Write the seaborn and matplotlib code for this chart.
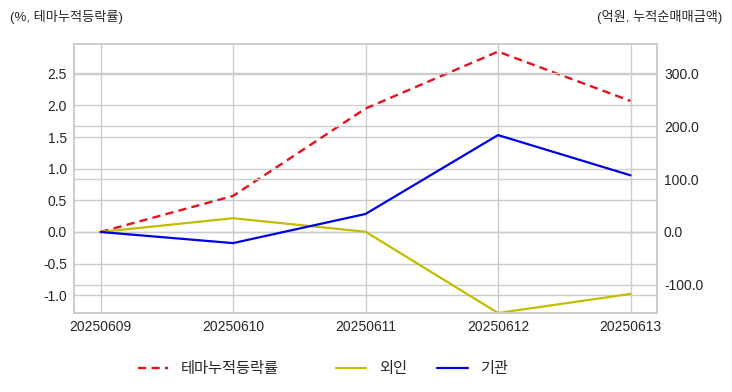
import matplotlib
matplotlib.use("Agg")
import matplotlib.pyplot as plt
import seaborn as sns
import pandas as pd
from matplotlib.ticker import FormatStrFormatter

dates = ["20250609", "20250610", "20250611", "20250612", "20250613"]
theme_rate = [0.0, 0.57, 1.95, 2.85, 2.07]      # %, 테마누적등락률
foreign = [0.0, 26.0, 0.5, -153.0, -117.0]      # 억원, 외인
institution = [0.0, -21.0, 34.0, 183.0, 107.0]  # 억원, 기관

left_ticks = [-1.0, -0.5, 0.0, 0.5, 1.0, 1.5, 2.0, 2.5]
right_ticks = [-100.0, 0.0, 100.0, 200.0, 300.0]

sns.set_theme(style="whitegrid")
plt.rcParams["font.family"] = ["Liberation Sans", "Noto Sans CJK KR", "DejaVu Sans"]
plt.rcParams["axes.unicode_minus"] = False

df = pd.DataFrame({"x": range(len(dates)), "theme": theme_rate,
                   "foreign": foreign, "inst": institution})

fig = plt.figure(figsize=(7.32, 3.92), dpi=100)
ax1 = fig.add_axes([74/732, 1-313/392, (657-74)/732, (313-44)/392])
ax2 = ax1.twinx()

sns.lineplot(data=df, x="x", y="theme", ax=ax1, color="#e3121b",
             linewidth=1.7, label="테마누적등락률", legend=False)
ax1.lines[0].set_dashes([3.5, 2.2])
sns.lineplot(data=df, x="x", y="foreign", ax=ax2, color="#bfbf00",
             linewidth=1.6, label="외인", legend=False)
sns.lineplot(data=df, x="x", y="inst", ax=ax2, color="#0000e6",
             linewidth=1.6, label="기관", legend=False)

ax1.set_xlim(-0.2, 4.2)
ax1.set_ylim(-1.28, 2.97)
ax2.set_ylim(-153, 355)
ax1.set_xticks(range(len(dates)))
ax1.set_xticklabels(dates)
ax1.set_yticks(left_ticks)
ax2.set_yticks(right_ticks)
ax1.yaxis.set_major_formatter(FormatStrFormatter("%.1f"))
ax2.yaxis.set_major_formatter(FormatStrFormatter("%.1f"))
for ax in (ax1, ax2):
    ax.set_xlabel("")
    ax.set_ylabel("")
    ax.tick_params(labelsize=10, colors="#262626", pad=5, length=0)
    ax.grid(True, color="#cccccc", linewidth=1.0)
    for s in ax.spines.values():
        s.set_color("#cccccc")
        s.set_linewidth(1.2)

fig.text(10/732, 1-17/392, "(%, 테마누적등락률)", fontsize=9.5, color="#262626",
         ha="left", va="center")
fig.text(722/732, 1-17/392, "(억원, 누적순매매금액)", fontsize=9.5, color="#262626",
         ha="right", va="center")

h1, l1 = ax1.get_legend_handles_labels()
h2, l2 = ax2.get_legend_handles_labels()
leg1 = fig.legend(h1, l1, loc="center", bbox_to_anchor=(208/732, 1-369/392),
                  frameon=False, fontsize=11, handlelength=2.0)
leg2 = fig.legend(h2, l2, loc="center", bbox_to_anchor=(422/732, 1-369/392),
                  ncol=2, frameon=False, fontsize=11, columnspacing=2.0,
                  handlelength=2.0)

fig.savefig("out.png", dpi=100)
